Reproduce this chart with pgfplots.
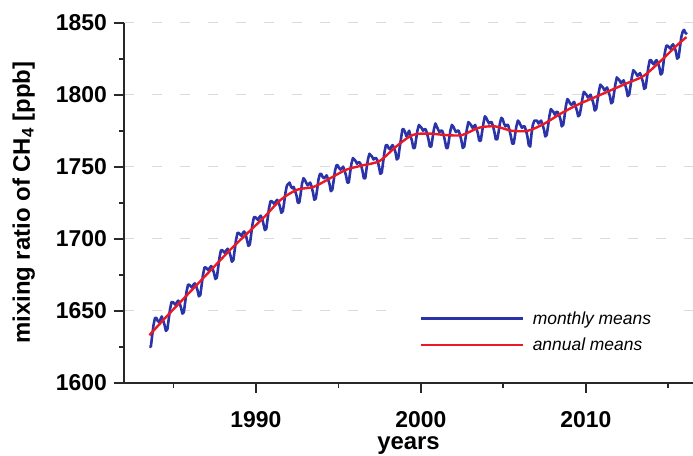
\documentclass[border=0pt]{standalone}
\usepackage{pgfplots}
\pgfplotsset{compat=1.18}
\usepackage{fontspec}
\setmainfont{Liberation Sans}
\definecolor{monthblue}{RGB}{42,52,168}
\definecolor{annualred}{RGB}{235,25,35}
\definecolor{gridgray}{RGB}{218,218,218}
\definecolor{axisgray}{RGB}{40,40,40}

\begin{document}
\begin{tikzpicture}
\begin{axis}[
  scale only axis, width=569bp, height=360bp,
  xmin=1982, xmax=2016.5, ymin=1600, ymax=1850,
  axis x line=bottom, axis y line=left,
  axis line style={-, line width=1.8bp, axisgray},
  tick align=outside,
  major tick length=10bp, minor tick length=5bp,
  every tick/.style={line width=1.8bp, axisgray},
  xtick={1990,2000,2010}, minor xtick={1985,1995,2005,2015},
  ytick={1600,1650,...,1850}, minor ytick={1625,1675,...,1825},
  ymajorgrids,
  major grid style={gridgray, line width=1.4bp, dash pattern=on 10bp off 18bp},
  /pgf/number format/1000 sep={},
  /pgf/number format/assume math mode=true,
  ticklabel style={font=\fontsize{23}{27}\selectfont\bfseries},
  yticklabel style={inner sep=0pt, anchor=east, xshift=-7bp},
  xticklabel style={inner sep=0pt, anchor=base, yshift=-35bp},
  xlabel={years},
  ylabel={mixing ratio of CH\textsubscript{4} [ppb]},
  label style={font=\fontsize{24}{28}\selectfont\bfseries},
  xlabel style={at={(axis description cs:0.5,-0.186)}, anchor=base, inner sep=0pt},
  ylabel style={at={(axis description cs:-0.176,0.5)}, anchor=center},
  legend image code/.code={\draw[#1] (0bp,0bp) -- (102bp,0bp);},
  legend cell align=left,
  legend style={draw=none, fill=white,
    font=\fontsize{17.5}{20}\selectfont\itshape,
    inner xsep=22bp, inner ysep=4bp, row sep=8bp, column sep=7bp,
    at={(axis description cs:0.4798,0.2147)}, anchor=north west},
]
\addlegendimage{monthblue, line width=2.6bp}
\addlegendentry{monthly means}
\addlegendimage{annualred, line width=2.4bp}
\addlegendentry{annual means}
% monthly means
\addplot[forget plot, monthblue, line width=2.6bp, line join=round] coordinates {
(1983.54,1625) (1983.63,1625) (1983.71,1633) (1983.79,1640) (1983.88,1645) (1983.96,1645)
(1984.04,1643) (1984.13,1642) (1984.21,1644) (1984.29,1646) (1984.38,1643) (1984.46,1640) (1984.54,1636) (1984.63,1637) (1984.71,1644) (1984.79,1651) (1984.88,1656) (1984.96,1656)
(1985.04,1655) (1985.13,1654) (1985.21,1656) (1985.29,1657) (1985.38,1655) (1985.46,1652) (1985.54,1648) (1985.63,1649) (1985.71,1656) (1985.79,1663) (1985.88,1668) (1985.96,1668)
(1986.04,1667) (1986.13,1666) (1986.21,1668) (1986.29,1669) (1986.38,1667) (1986.46,1664) (1986.54,1660) (1986.63,1661) (1986.71,1668) (1986.79,1675) (1986.88,1680) (1986.96,1680)
(1987.04,1679) (1987.13,1678) (1987.21,1680) (1987.29,1681) (1987.38,1679) (1987.46,1676) (1987.54,1672) (1987.63,1673) (1987.71,1680) (1987.79,1687) (1987.88,1692) (1987.96,1692)
(1988.04,1691) (1988.13,1690) (1988.21,1692) (1988.29,1693) (1988.38,1691) (1988.46,1688) (1988.54,1684) (1988.63,1685) (1988.71,1692) (1988.79,1699) (1988.88,1704) (1988.96,1704)
(1989.04,1703) (1989.13,1702) (1989.21,1704) (1989.29,1705) (1989.38,1703) (1989.46,1699) (1989.54,1695) (1989.63,1696) (1989.71,1703) (1989.79,1710) (1989.88,1715) (1989.96,1715)
(1990.04,1714) (1990.13,1713) (1990.21,1715) (1990.29,1716) (1990.38,1714) (1990.46,1710) (1990.54,1706) (1990.63,1707) (1990.71,1714) (1990.79,1721) (1990.88,1726) (1990.96,1726)
(1991.04,1725) (1991.13,1724) (1991.21,1726) (1991.29,1727) (1991.38,1725) (1991.46,1722) (1991.54,1718) (1991.63,1719) (1991.71,1725) (1991.79,1732) (1991.88,1737) (1991.96,1738)
(1992.04,1739) (1992.13,1736) (1992.21,1735) (1992.29,1736) (1992.38,1733) (1992.46,1730) (1992.54,1725) (1992.63,1725) (1992.71,1731) (1992.79,1738) (1992.88,1742) (1992.96,1741)
(1993.04,1739) (1993.13,1737) (1993.21,1738) (1993.29,1739) (1993.38,1736) (1993.46,1732) (1993.54,1727) (1993.63,1728) (1993.71,1734) (1993.79,1741) (1993.88,1745) (1993.96,1745)
(1994.04,1743) (1994.13,1742) (1994.21,1743) (1994.29,1744) (1994.38,1741) (1994.46,1738) (1994.54,1733) (1994.63,1734) (1994.71,1740) (1994.79,1747) (1994.88,1751) (1994.96,1751)
(1995.04,1749) (1995.13,1748) (1995.21,1749) (1995.29,1750) (1995.38,1747) (1995.46,1744) (1995.54,1739) (1995.63,1739) (1995.71,1746) (1995.79,1752) (1995.88,1756) (1995.96,1755)
(1996.04,1754) (1996.13,1752) (1996.21,1753) (1996.29,1753) (1996.38,1751) (1996.46,1747) (1996.54,1742) (1996.63,1742) (1996.71,1749) (1996.79,1755) (1996.88,1759) (1996.96,1758)
(1997.04,1757) (1997.13,1755) (1997.21,1756) (1997.29,1756) (1997.38,1754) (1997.46,1750) (1997.54,1745) (1997.63,1746) (1997.71,1753) (1997.79,1760) (1997.88,1765) (1997.96,1765)
(1998.04,1763) (1998.13,1762) (1998.21,1764) (1998.29,1765) (1998.38,1763) (1998.46,1760) (1998.54,1755) (1998.63,1756) (1998.71,1763) (1998.79,1769) (1998.88,1776) (1998.96,1776)
(1999.04,1774) (1999.13,1771) (1999.21,1773) (1999.29,1775) (1999.38,1771) (1999.46,1768) (1999.54,1763) (1999.63,1763) (1999.71,1769) (1999.79,1775) (1999.88,1779) (1999.96,1778)
(2000.04,1777) (2000.13,1775) (2000.21,1776) (2000.29,1776) (2000.38,1773) (2000.46,1769) (2000.54,1764) (2000.63,1764) (2000.71,1770) (2000.79,1776) (2000.88,1780) (2000.96,1778)
(2001.04,1776) (2001.13,1774) (2001.21,1775) (2001.29,1775) (2001.38,1772) (2001.46,1768) (2001.54,1763) (2001.63,1763) (2001.71,1769) (2001.79,1775) (2001.88,1779) (2001.96,1778)
(2002.04,1776) (2002.13,1774) (2002.21,1775) (2002.29,1775) (2002.38,1772) (2002.46,1768) (2002.54,1763) (2002.63,1764) (2002.71,1770) (2002.79,1776) (2002.88,1781) (2002.96,1780)
(2003.04,1779) (2003.13,1777) (2003.21,1778) (2003.29,1779) (2003.38,1776) (2003.46,1773) (2003.54,1768) (2003.63,1768) (2003.71,1774) (2003.79,1780) (2003.88,1785) (2003.96,1784)
(2004.04,1782) (2004.13,1780) (2004.21,1781) (2004.29,1781) (2004.38,1778) (2004.46,1774) (2004.54,1769) (2004.63,1769) (2004.71,1774) (2004.79,1780) (2004.88,1784) (2004.96,1783)
(2005.04,1780) (2005.13,1778) (2005.21,1779) (2005.29,1779) (2005.38,1775) (2005.46,1771) (2005.54,1766) (2005.63,1766) (2005.71,1772) (2005.79,1778) (2005.88,1782) (2005.96,1781)
(2006.04,1779) (2006.13,1777) (2006.21,1778) (2006.29,1778) (2006.38,1775) (2006.46,1771) (2006.54,1765) (2006.63,1764) (2006.71,1773) (2006.79,1779) (2006.88,1782) (2006.96,1782)
(2007.04,1782) (2007.13,1780) (2007.21,1781) (2007.29,1782) (2007.38,1779) (2007.46,1776) (2007.54,1771) (2007.63,1772) (2007.71,1778) (2007.79,1785) (2007.88,1790) (2007.96,1789)
(2008.04,1788) (2008.13,1786) (2008.21,1788) (2008.29,1788) (2008.38,1786) (2008.46,1783) (2008.54,1778) (2008.63,1779) (2008.71,1785) (2008.79,1792) (2008.88,1797) (2008.96,1796)
(2009.04,1794) (2009.13,1793) (2009.21,1794) (2009.29,1795) (2009.38,1792) (2009.46,1789) (2009.54,1785) (2009.63,1786) (2009.71,1791) (2009.79,1797) (2009.88,1802) (2009.96,1801)
(2010.04,1800) (2010.13,1798) (2010.21,1799) (2010.29,1800) (2010.38,1797) (2010.46,1794) (2010.54,1789) (2010.63,1790) (2010.71,1796) (2010.79,1802) (2010.88,1807) (2010.96,1806)
(2011.04,1805) (2011.13,1803) (2011.21,1804) (2011.29,1805) (2011.38,1802) (2011.46,1799) (2011.54,1794) (2011.63,1795) (2011.71,1801) (2011.79,1807) (2011.88,1812) (2011.96,1811)
(2012.04,1810) (2012.13,1808) (2012.21,1809) (2012.29,1810) (2012.38,1807) (2012.46,1804) (2012.54,1799) (2012.63,1800) (2012.71,1806) (2012.79,1812) (2012.88,1817) (2012.96,1816)
(2013.04,1815) (2013.13,1813) (2013.21,1814) (2013.29,1815) (2013.38,1812) (2013.46,1809) (2013.54,1804) (2013.63,1805) (2013.71,1812) (2013.79,1819) (2013.88,1824) (2013.96,1824)
(2014.04,1822) (2014.13,1821) (2014.21,1823) (2014.29,1824) (2014.38,1822) (2014.46,1819) (2014.54,1814) (2014.63,1815) (2014.71,1822) (2014.79,1829) (2014.88,1834) (2014.96,1834)
(2015.04,1833) (2015.13,1832) (2015.21,1834) (2015.29,1835) (2015.38,1833) (2015.46,1830) (2015.54,1825) (2015.63,1826) (2015.71,1833) (2015.79,1840) (2015.88,1844) (2015.96,1845)
(2016.04,1843) (2016.13,1842)
};
% annual means
\addplot[forget plot, annualred, line width=2.4bp, smooth] coordinates {
(1983.54,1633) (1984.5,1645) (1985.5,1657) (1986.5,1669) (1987.5,1681)
(1988.5,1693) (1989.5,1704) (1990.5,1715) (1991.5,1727) (1992.5,1734)
(1993.5,1736) (1994.5,1742) (1995.5,1748) (1996.5,1751) (1997.5,1754)
(1998.5,1764) (1999.5,1772) (2000.5,1773) (2001.5,1772) (2002.5,1772)
(2003.5,1777) (2004.5,1778) (2005.5,1775) (2006.5,1775) (2007.5,1780)
(2008.5,1787) (2009.5,1793) (2010.5,1798) (2011.5,1803) (2012.5,1808)
(2013.5,1813) (2014.5,1823) (2015.5,1834) (2016.1,1840)
};
\end{axis}
\pgfresetboundingbox
\path[use as bounding box] (-124bp,-73.3bp) rectangle (569bp,382.7bp);
\end{tikzpicture}
\end{document}
